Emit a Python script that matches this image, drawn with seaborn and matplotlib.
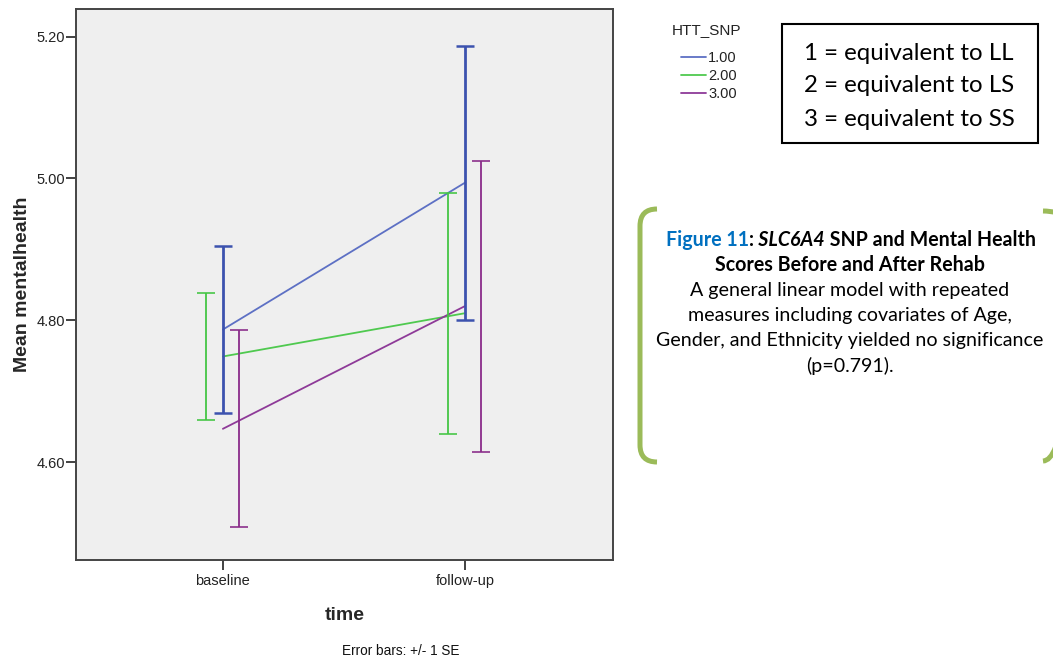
import numpy as np
import pandas as pd
import seaborn as sns
import matplotlib.pyplot as plt
from matplotlib.path import Path
from matplotlib.patches import PathPatch, Rectangle
from matplotlib.offsetbox import TextArea, HPacker, AnchoredOffsetbox

# values
times = ["baseline", "follow-up"]
groups = ["1.00", "2.00", "3.00"]
mean_snp1 = [4.787, 4.994]
mean_snp2 = [4.749, 4.810]
mean_snp3 = [4.647, 4.820]
se_snp1 = [0.118, 0.193]
se_snp2 = [0.090, 0.170]
se_snp3 = [0.139, 0.205]

line_colors = {"1.00": "#5d70c4", "2.00": "#4fc94f", "3.00": "#8e3a98"}
err_colors = {"1.00": "#3c52ae", "2.00": "#45c645", "3.00": "#8a2c8a"}
err_widths = {"1.00": 2.0, "2.00": 1.3, "3.00": 1.3}
dodge = {"1.00": 0.0, "2.00": -0.068, "3.00": 0.068}

means = {"1.00": mean_snp1, "2.00": mean_snp2, "3.00": mean_snp3}
ses = {"1.00": se_snp1, "2.00": se_snp2, "3.00": se_snp3}

df = pd.DataFrame({
    "time": times * 3,
    "HTT_SNP": np.repeat(groups, 2),
    "mean": mean_snp1 + mean_snp2 + mean_snp3,
    "se": se_snp1 + se_snp2 + se_snp3,
})

sns.set_style("white")
plt.rcParams["font.family"] = ["Liberation Sans", "DejaVu Sans"]

W, H = 1053, 660
fig = plt.figure(figsize=(W / 100, H / 100), dpi=100)
ax = fig.add_axes([76 / W, 1 - 560 / H, 537 / W, 551 / H])
ax.set_facecolor("#efefef")

sns.lineplot(data=df, x="time", y="mean", hue="HTT_SNP", palette=line_colors,
             linewidth=1.3, ax=ax, sort=False)

# dodged +/- 1 SE error bars
for g in groups:
    xpos = np.arange(len(times)) + dodge[g]
    ax.errorbar(xpos, means[g], yerr=ses[g], fmt="none", ecolor=err_colors[g],
                elinewidth=err_widths[g], capsize=6.3, capthick=err_widths[g] * 0.9)

ax.set_xlim(-0.607, 1.612)
ax.set_ylim(4.462, 5.239)
ax.set_xticks(range(len(times)))
ax.set_xticklabels(times)
ax.set_yticks([4.6, 4.8, 5.0, 5.2])
ax.set_yticklabels(["4.60", "4.80", "5.00", "5.20"])
ax.tick_params(axis="both", direction="out", length=7, width=1.3, color="#333333",
               labelsize=10.5, labelcolor="#222222", left=True, bottom=True)
ax.tick_params(axis="y", pad=1)
ax.tick_params(axis="x", pad=3)
for s in ax.spines.values():
    s.set_color("#444444")
    s.set_linewidth(1.4)

ax.set_xlabel("time", fontsize=14, fontweight="bold", labelpad=14)
ax.set_ylabel("Mean mentalhealth", fontsize=14, fontweight="bold", labelpad=4)

# legend
handles, labels = ax.get_legend_handles_labels()
ax.get_legend().remove()
fig.text(672 / W, 1 - 30 / H, "HTT_SNP", fontsize=11, color="#222222", va="center")
fig.legend(handles, labels, loc="upper left", bbox_to_anchor=(681 / W, 1 - 51 / H),
           frameon=False, fontsize=10.5, handlelength=1.7, handletextpad=0.15,
           labelspacing=0.28, borderpad=0, borderaxespad=0, labelcolor="#222222")

fig.text(401 / W, 1 - 651 / H, "Error bars: +/- 1 SE", fontsize=9.8, ha="center",
         va="center", color="#111111")

# key box
fig.patches.append(Rectangle((782 / W, 1 - 143 / H), 256 / W, 119 / H,
                             transform=fig.transFigure, fill=False,
                             edgecolor="black", linewidth=1.5))
key_lines = ["1 = equivalent to LL", "2 = equivalent to LS", "3 = equivalent to SS"]
for i, t in enumerate(key_lines):
    fig.text(909 / W, 1 - (53 + 33 * i) / H, t, fontsize=17.3, family="Lato",
             ha="center", va="center", color="black")


# green brackets around caption
def px(x, y):
    return (x / W, 1 - y / H)


bracket_green = "#9bbb59"
left_verts = [px(657, 209), px(640, 209), px(640, 226), px(640, 445), px(640, 462), px(657, 462)]
right_verts = [px(1043, 211), px(1072, 211), px(1072, 236), px(1072, 436), px(1072, 461), px(1043, 461)]
codes = [Path.MOVETO, Path.CURVE3, Path.CURVE3, Path.LINETO, Path.CURVE3, Path.CURVE3]
for verts in (left_verts, right_verts):
    fig.patches.append(PathPatch(Path(verts, codes), transform=fig.transFigure,
                                 fill=False, edgecolor=bracket_green, linewidth=3.6,
                                 capstyle="butt"))

# caption
cap_size = 14.1
title_parts = HPacker(children=[
    TextArea("Figure 11", textprops=dict(fontsize=cap_size, family="Lato", weight="bold", color="#0070c0")),
    TextArea(":", textprops=dict(fontsize=cap_size, family="Lato", weight="bold", color="black")),
    TextArea(" SLC6A4", textprops=dict(fontsize=cap_size, family="Lato", weight="bold", style="italic", color="black")),
    TextArea(" SNP and Mental Health", textprops=dict(fontsize=cap_size, family="Lato", weight="bold", color="black")),
], align="baseline", pad=0, sep=0)
box = AnchoredOffsetbox(loc="center", child=title_parts, frameon=False, pad=0, borderpad=0,
                        bbox_to_anchor=px(851, 240), bbox_transform=fig.transFigure)
fig.add_artist(box)

cap_lines = [
    ("Scores Before and After Rehab", "bold"),
    ("A general linear model with repeated", "normal"),
    ("measures including covariates of Age,", "normal"),
    ("Gender, and Ethnicity yielded no significance", "normal"),
    ("(p=0.791).", "normal"),
]
for i, (t, w) in enumerate(cap_lines):
    fig.text(850 / W, 1 - (265 + 25.3 * i) / H, t, fontsize=cap_size, family="Lato",
             weight=w, ha="center", va="center", color="black")

fig.savefig("out.png", dpi=100, facecolor="white")
